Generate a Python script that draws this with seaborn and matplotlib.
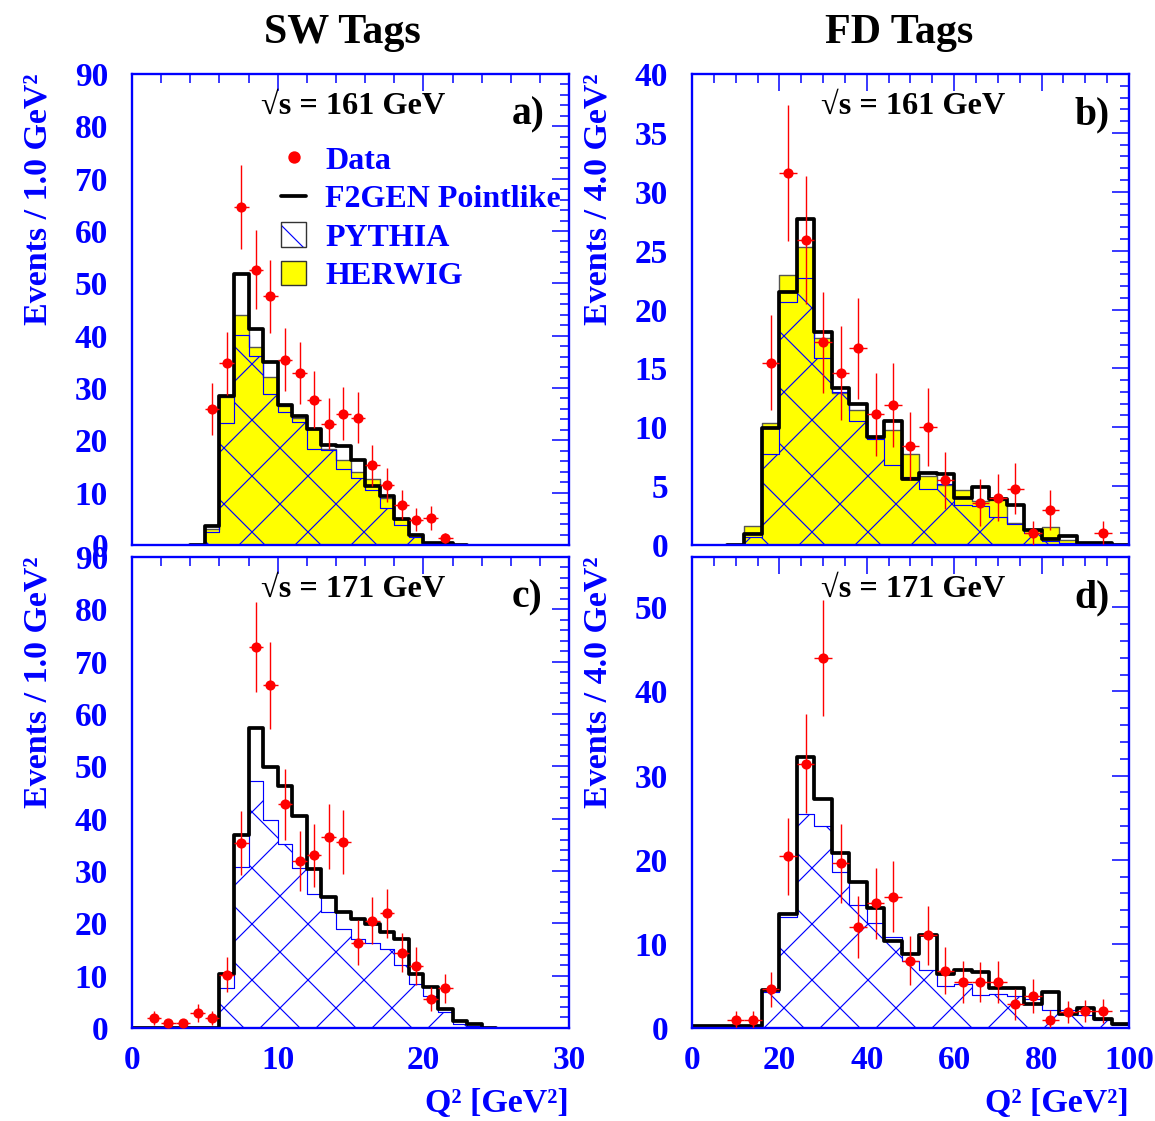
import numpy as np
import matplotlib
matplotlib.use("Agg")
import matplotlib.pyplot as plt
import seaborn as sns
from matplotlib.lines import Line2D
from matplotlib.patches import Patch
from matplotlib.legend_handler import HandlerTuple
from matplotlib.ticker import MultipleLocator

# ---------------------------------------------------------------- data
# SW tags, sqrt(s) = 161 GeV  (1 GeV^2 bins, edges 4..23)
a_edges = list(range(4, 24, 1))
a_f2gen = [0, 3.6, 28.5, 51.7, 41.3, 35.0, 26.7, 24.6, 22.1, 19.1, 19.0,
           16.2, 11.3, 9.4, 5.0, 1.9, 0.4, 0.3, 0]
a_herwig = [0, 3.0, 28.2, 44.0, 37.9, 32.1, 26.5, 24.3, 22.1, 18.3, 16.3,
            14.0, 12.6, 9.0, 5.0, 1.9, 0.2, 0.1, 0]
a_pythia = [0, 2.4, 23.4, 40.1, 36.1, 28.8, 25.5, 23.5, 18.4, 18.2, 14.5,
            12.8, 10.5, 7.0, 3.9, 1.5, 0.2, 0, 0]
a_data_q2 = [5.5, 6.5, 7.5, 8.5, 9.5, 10.5, 11.5, 12.5, 13.5, 14.5, 15.5,
             16.5, 17.5, 18.5, 19.5, 20.5, 21.5]
a_data = [26.0, 34.7, 64.6, 52.6, 47.5, 35.4, 32.8, 27.8, 23.2, 25.1, 24.3,
          15.2, 11.5, 7.7, 4.8, 5.1, 1.3]
a_err = [5.0, 6.0, 8.1, 7.5, 7.0, 6.0, 5.9, 5.4, 4.8, 5.0, 4.9, 4.0, 3.3,
         2.8, 2.2, 2.3, 1.0]

# FD tags, sqrt(s) = 161 GeV  (4 GeV^2 bins, edges 8..100)
b_edges = list(range(8, 104, 4))
b_f2gen = [0, 0.9, 9.9, 21.5, 27.7, 18.1, 13.3, 12.0, 9.2, 10.5, 5.6, 6.1,
           6.0, 4.0, 4.9, 3.9, 3.4, 1.3, 0.5, 0.8, 0.2, 0.15, 0]
b_herwig = [0, 1.6, 10.4, 22.9, 25.3, 17.6, 12.9, 11.5, 9.1, 9.8, 7.7, 5.9,
            5.1, 4.7, 3.7, 3.8, 1.9, 1.3, 1.5, 0.4, 0.15, 0.1, 0]
b_pythia = [0, 0.7, 7.7, 20.6, 22.7, 15.9, 13.0, 10.5, 9.0, 6.8, 5.8, 4.8,
            5.2, 3.4, 3.3, 2.4, 1.8, 1.0, 0.3, 0.2, 0.1, 0.0, 0]
b_data_q2 = [18, 22, 26, 30, 34, 38, 42, 46, 50, 54, 58, 66, 70, 74, 78, 82, 94]
b_data = [15.5, 31.6, 25.9, 17.2, 14.6, 16.7, 11.1, 11.9, 8.4, 10.0, 5.5,
          3.6, 4.0, 4.8, 1.0, 3.0, 1.05]
b_err = [4.0, 5.8, 5.4, 4.3, 4.0, 4.3, 3.5, 3.6, 2.9, 3.3, 2.4, 2.0, 2.0,
         2.2, 1.0, 1.7, 1.0]

# SW tags, sqrt(s) = 171 GeV  (1 GeV^2 bins, edges 0..25)
c_edges = list(range(0, 26, 1))
c_f2gen = [0, 0, 0, 0, 0, 0, 10.4, 36.9, 57.3, 49.9, 46.2, 40.5, 30.4, 25.0,
           22.1, 20.9, 19.9, 18.4, 17.0, 10.4, 7.9, 3.6, 1.3, 0.7, 0]
c_pythia = [0, 0, 0, 0, 0, 0, 7.7, 30.8, 47.1, 39.7, 35.2, 30.5, 25.5, 22.1,
            19.0, 17.0, 16.2, 15.1, 12.1, 8.4, 6.1, 3.1, 0.7, 0.4, 0]
c_data_q2 = [1.5, 2.5, 3.5, 4.5, 5.5, 6.5, 7.5, 8.5, 9.5, 10.5, 11.5, 12.5,
             13.5, 14.5, 15.5, 16.5, 17.5, 18.5, 19.5, 20.5, 21.5]
c_data = [1.85, 0.9, 0.9, 2.9, 1.85, 10.2, 35.4, 72.7, 65.5, 42.7, 31.9, 33.0,
          36.5, 35.5, 16.3, 20.5, 21.9, 14.4, 11.9, 5.5, 7.6]
c_err = [1.3, 0.9, 0.9, 1.7, 1.3, 3.4, 6.1, 8.6, 8.3, 6.7, 5.8, 6.0, 6.2,
         6.1, 4.3, 4.5, 4.7, 3.8, 3.6, 2.3, 2.8]

# FD tags, sqrt(s) = 171 GeV  (4 GeV^2 bins, edges 0..100)
d_edges = list(range(0, 104, 4))
d_f2gen = [0.2, 0.2, 0.2, 0.2, 4.5, 13.6, 32.2, 27.2, 20.8, 17.4, 14.3, 10.3,
           8.8, 11.0, 6.4, 6.9, 6.6, 4.7, 4.7, 2.8, 4.3, 1.6, 2.4, 1.1, 0.5]
d_pythia = [0, 0, 0, 0, 4.3, 13.2, 25.4, 24.0, 18.6, 14.6, 12.5, 10.8, 8.0,
            6.9, 5.0, 5.2, 3.9, 4.0, 3.8, 3.4, 2.1, 2.1, 1.5, 1.0, 0.4]
d_data_q2 = [10, 14, 18, 22, 26, 30, 34, 38, 42, 46, 50, 54, 58, 62, 66, 70,
             74, 78, 82, 86, 90, 94]
d_data = [1.0, 1.0, 4.6, 20.4, 31.4, 44.0, 19.6, 12.0, 14.8, 15.6, 8.0, 11.0,
          6.8, 5.5, 5.5, 5.5, 2.8, 3.8, 0.9, 1.9, 2.0, 2.0]
d_err = [1.0, 1.0, 2.1, 4.6, 5.9, 6.9, 4.7, 3.7, 4.2, 4.2, 2.9, 3.5, 2.8,
         2.5, 2.4, 2.5, 1.8, 2.0, 1.2, 1.3, 1.3, 1.4]

col_titles = ["SW Tags", "FD Tags"]
energies = ["161", "161", "171", "171"]
panel_tags = ["a)", "b)", "c)", "d)"]
y_titles = ["Events / 1.0 GeV²", "Events / 4.0 GeV²"]
x_title = "Q² [GeV²]"
legend_labels = ["Data", "F2GEN Pointlike", "PYTHIA", "HERWIG"]

# ---------------------------------------------------------------- style
sns.set_theme(style="white")
plt.rcParams["font.family"] = ["Liberation Serif", "DejaVu Serif"]
plt.rcParams["font.weight"] = "bold"
plt.rcParams["hatch.linewidth"] = 0.5

DPI = 168
BLUE = "#0000ff"
RED = "#ff0000"
YELLOW = "#ffff00"
FS = 14.3

fig = plt.figure(figsize=(1155 / DPI, 1121 / DPI), dpi=DPI)
W, H = 0.3784, 0.4202
ax_a = fig.add_axes([0.1143, 0.5138, W, H])
ax_b = fig.add_axes([0.5991, 0.5138, W, H])
ax_c = fig.add_axes([0.1143, 0.0830, W, H])
ax_d = fig.add_axes([0.5991, 0.0830, W, H])


def step_hist(ax, edges, values, **kw):
    e = np.asarray(edges, dtype=float)
    centers = 0.5 * (e[:-1] + e[1:])
    sns.histplot(x=centers, weights=np.asarray(values, dtype=float),
                 bins=list(edges), element="step", ax=ax, legend=False, **kw)


def draw_panel(ax, edges, f2gen, pythia, herwig, q2, vals, errs, half):
    if herwig is not None:
        step_hist(ax, edges, herwig, fill=True, color=YELLOW,
                  facecolor=YELLOW, edgecolor="#555555", linewidth=0.6,
                  zorder=1)
    step_hist(ax, edges, pythia, fill=True, color=BLUE, facecolor="none",
              edgecolor=BLUE, hatch="x", linewidth=0.5, zorder=1.5)
    step_hist(ax, edges, f2gen, fill=False, color="black", linewidth=1.6,
              zorder=2)
    ax.errorbar(q2, vals, xerr=half, yerr=errs, fmt="none", ecolor=RED,
                elinewidth=0.6, capsize=0, zorder=4)
    sns.scatterplot(x=q2, y=vals, ax=ax, color=RED, s=19, linewidth=0,
                    zorder=5, legend=False)


draw_panel(ax_a, a_edges, a_f2gen, a_pythia, a_herwig, a_data_q2, a_data, a_err, 0.5)
draw_panel(ax_b, b_edges, b_f2gen, b_pythia, b_herwig, b_data_q2, b_data, b_err, 2.0)
draw_panel(ax_c, c_edges, c_f2gen, c_pythia, None, c_data_q2, c_data, c_err, 0.5)
draw_panel(ax_d, d_edges, d_f2gen, d_pythia, None, d_data_q2, d_data, d_err, 2.0)

limits = {ax_a: (30, 90, 10, 2, 10, 2), ax_b: (100, 40, 20, 5, 5, 1),
          ax_c: (30, 90, 10, 2, 10, 2), ax_d: (100, 56, 20, 5, 10, 2)}

for i, ax in enumerate([ax_a, ax_b, ax_c, ax_d]):
    xmax, ymax, xmaj, xmin_, ymaj, ymin_ = limits[ax]
    ax.set_xlim(0, xmax)
    ax.set_ylim(0, ymax)
    ax.xaxis.set_major_locator(MultipleLocator(xmaj))
    ax.xaxis.set_minor_locator(MultipleLocator(xmin_))
    ax.yaxis.set_major_locator(MultipleLocator(ymaj))
    ax.yaxis.set_minor_locator(MultipleLocator(ymin_))
    ax.set_axisbelow(False)
    for sp in ax.spines.values():
        sp.set_color(BLUE)
        sp.set_linewidth(1.0)
    ax.tick_params(which="both", direction="in", top=True, right=True,
                   color=BLUE, labelcolor=BLUE, labelsize=FS, width=0.65)
    ax.tick_params(which="major", length=7.3)
    ax.tick_params(which="minor", length=3.9)
    ax.tick_params(axis="y", pad=10.3)
    ax.tick_params(axis="x", pad=7.3)
    for lab in ax.get_xticklabels() + ax.get_yticklabels():
        lab.set_fontweight("bold")

    ax.set_ylabel(y_titles[i % 2], color=BLUE, fontsize=FS + 0.3,
                  fontweight="bold", loc="top")
    ax.yaxis.set_label_coords(-0.179, 1.0)
    if i < 2:
        ax.set_xlabel("")
        ax.tick_params(labelbottom=False)
    else:
        ax.set_xlabel(x_title, color=BLUE, fontsize=FS + 0.3,
                      fontweight="bold", loc="right", labelpad=5)

    ax.text(0.506, 0.916, f"√s = {energies[i]} GeV", transform=ax.transAxes,
            ha="center", va="baseline", fontsize=13.8, color="black",
            fontweight="bold")
    ax.text(0.869 if i % 2 == 0 else 0.875, 0.893, panel_tags[i],
            transform=ax.transAxes, ha="left", va="baseline", fontsize=17,
            color="black", fontweight="bold")

# column headings
fig.text(342.5 / 1155, 1 - 33 / 1121, col_titles[0], ha="center", va="center",
         fontsize=18.0, fontweight="bold", color="black")
fig.text(899.5 / 1155, 1 - 33 / 1121, col_titles[1], ha="center", va="center",
         fontsize=18.0, fontweight="bold", color="black")

# legend in panel a
pyth_hatch = Patch(facecolor="white", edgecolor=BLUE, hatch="x", linewidth=0)
pyth_frame = Patch(facecolor="none", edgecolor="#333333", linewidth=0.6)
handles = [
    Line2D([], [], ls="none", marker="o", color=RED, markersize=4.3),
    Line2D([], [], color="black", linewidth=1.6),
    (pyth_hatch, pyth_frame),
    Patch(facecolor=YELLOW, edgecolor="#333333", linewidth=0.6),
]
leg = ax_a.legend(handles, legend_labels, loc="upper left",
                  bbox_to_anchor=(0.341, 0.848), frameon=False,
                  prop={"size": 13.7, "weight": "bold"}, labelcolor=BLUE,
                  handlelength=0.78, handleheight=0.8, handletextpad=0.6,
                  labelspacing=0.25, borderpad=0.0, borderaxespad=0.0,
                  handler_map={tuple: HandlerTuple(ndivide=1, pad=0)})

fig.savefig("out.png", dpi=DPI)
